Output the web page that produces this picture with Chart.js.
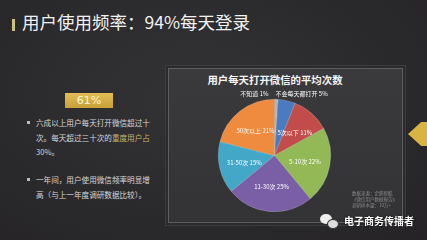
<!DOCTYPE html>
<html>
<head>
<meta charset="utf-8">
<script src="https://cdn.jsdelivr.net/npm/chart.js@4/dist/chart.umd.min.js"></script>
<style>
    html, body { margin: 0; padding: 0; }
    body {
        width: 427px; height: 240px; overflow: hidden; position: relative;
        background: radial-gradient(ellipse at 45% 40%, #333235 0%, #2a292b 60%, #252326 100%);
        font-family: "Noto Sans CJK SC", "Noto Sans", sans-serif;
        color: #e6e6e6;
    }
    .abs { position: absolute; }
    #head-bar { left: 12px; top: 19px; width: 3px; height: 12px; background: #c9c47a; }
    #head { left: 22px; top: 11px; font-size: 17.5px; line-height: 22px; color: #f2f2f2; white-space: nowrap; }
    #badge {
        left: 65px; top: 93px; width: 48px; height: 15px;
        background: linear-gradient(#e2bd55, #c9a03a);
        color: #fff6dc; font: 11px/15px "DejaVu Sans", sans-serif; text-align: center;
    }
    .bullet { left: 27px; font-size: 7.6px; line-height: 14.5px; color: #d8d8d8; width: 126px; }
    .bullet .dot { position: absolute; left: 0; top: 5px; width: 3px; height: 3px; background: #bbb; }
    .bullet p { margin: 0 0 0 9px; }
    .hl { color: #c9b46a; }
    #panel {
        left: 168px; top: 68px; width: 233px; height: 153px;
        border: 1px solid #5e5e60;
        background: linear-gradient(#3a3a3c, #333335);
        box-shadow: 0 0 0 2px #2b2a2c, 0 0 0 3px #3c3b3e;
    }
    #chart-box { left: 168px; top: 68px; width: 235px; height: 155px; }
    #chart-title { left: 175px; top: 72px; width: 200px; text-align: center; font-size: 10.4px; font-weight: bold; color: #f4f4f4; }
    #source { left: 352px; top: 190px; font-size: 4.5px; line-height: 6px; color: #8a8a8a; width: 46px; }
    #arrow {
        left: 408px; top: 122px; width: 22px; height: 24px; background: #d9b443;
        clip-path: polygon(0 50%, 60% 0, 100% 0, 100% 100%, 60% 100%);
    }
    #mark { left: 344px; top: 213px; font-size: 10px; font-weight: bold; color: #fff; text-shadow: 0 0 2px #000; white-space: nowrap; }
    #mark-icon { left: 320px; top: 214px; width: 12px; height: 10px; border-radius: 50%; background: #eee; }
    #mark-icon2 { left: 327px; top: 219px; width: 10px; height: 8px; border-radius: 50%; background: #ddd; border: 1px solid #333; }
</style>
</head>
<body>
<div class="abs" id="head-bar"></div>
<div class="abs" id="head">用户使用频率：94%每天登录</div>

<div class="abs" id="badge">61%</div>
<div class="abs bullet" style="top:116px"><span class="dot"></span><p>六成以上用户每天打开微信超过十次。每天超过三十次的<span class="hl">重度用户占</span>30%。</p></div>
<div class="abs bullet" style="top:173px"><span class="dot"></span><p>一年间，用户使用微信频率明显增高（与上一年度调研数据比较）。</p></div>

<div class="abs" id="panel"></div>
<div class="abs" id="chart-title">用户每天打开微信的平均次数</div>
<div class="abs" id="chart-box"><canvas id="pie"></canvas></div>
<div class="abs" id="source">数据来源：企鹅智酷<br>《微信用户数据报告》<br>调研样本量：10万+</div>
<div class="abs" id="arrow"></div>
<div class="abs" id="mark-icon"></div>
<div class="abs" id="mark-icon2"></div>
<div class="abs" id="mark">电子商务传播者</div>

<script>
// 每天打开微信的次数分布（%）
const categories = ['不知道', '不会每天都打开', '5次以下', '5-10次', '11-30次', '31-50次', '50次以上'];
const shares = [1, 5, 11, 22, 25, 15, 21];
const sliceColors = ['#b4b4b4', '#4a7bbf', '#c24c4a', '#93b957', '#7b5fa6', '#43a7c8', '#ef8b3e'];

// draws "类别 值%" on each slice; the two smallest ones go above the pie
const sliceLabels = {
    id: 'sliceLabels',
    afterDatasetsDraw(chart) {
        const ctx = chart.ctx;
        const arcs = chart.getDatasetMeta(0).data;
        ctx.save();
        ctx.font = '6px "Noto Sans CJK SC", sans-serif';
        ctx.fillStyle = '#ffffff';
        ctx.textBaseline = 'middle';
        arcs.forEach((arc, i) => {
            const text = `${categories[i]} ${shares[i]}%`;
            const r = arc.outerRadius;
            if (i < 2) {
                const y = arc.y - r - 6;
                ctx.textAlign = i === 0 ? 'right' : 'left';
                ctx.fillText(text, i === 0 ? arc.x - 6 : arc.x + 1, y);
                return;
            }
            const mid = (arc.startAngle + arc.endAngle) / 2;
            ctx.textAlign = 'center';
            ctx.fillText(text, arc.x + Math.cos(mid) * r * 0.55, arc.y + Math.sin(mid) * r * 0.55);
        });
        ctx.restore();
    }
};

new Chart(document.getElementById('pie'), {
    type: 'pie',
    data: {
        labels: categories,
        datasets: [{
            data: shares,
            backgroundColor: sliceColors,
            borderColor: 'rgba(255,255,255,0.35)',
            borderWidth: 0.6,
        }],
    },
    options: {
        responsive: true,
        maintainAspectRatio: false,
        animation: false,
        layout: { padding: { top: 31, bottom: 11, left: 50, right: 72 } },
        plugins: {
            legend: { display: false },
            tooltip: { enabled: false },
        },
    },
    plugins: [sliceLabels],
});
</script>
</body>
</html>
